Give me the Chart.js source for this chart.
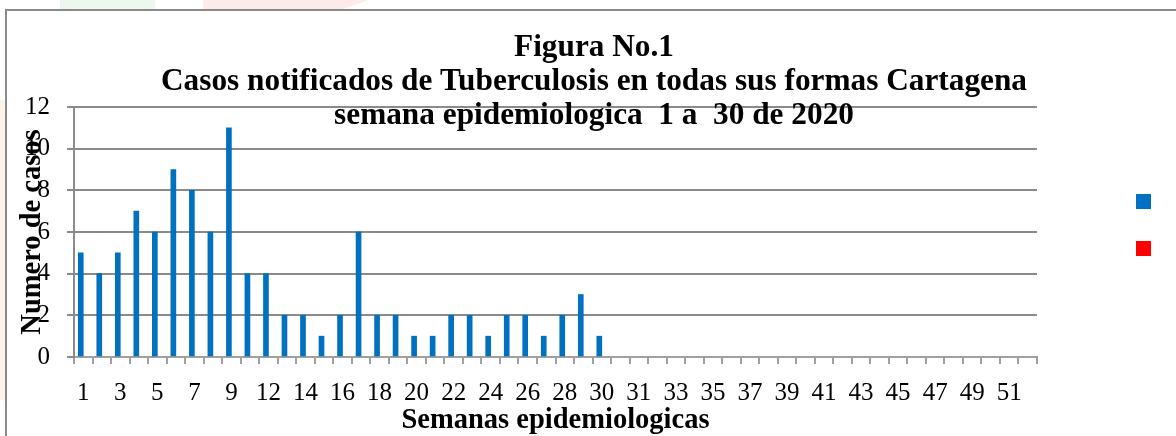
<!DOCTYPE html>
<html lang="es">
<head>
<meta charset="utf-8">
<title>Figura No.1</title>
<script src="https://cdn.jsdelivr.net/npm/chart.js@4.4.1/dist/chart.umd.min.js"></script>
<style>
    body { margin: 0; background: #ffffff; }
    #wrap { position: relative; width: 1176px; height: 436px; overflow: hidden; }
    .fondo { position: absolute; }
    #marco { left: 5px; top: 9px; width: 1300px; height: 600px; border-left: 2px solid #8a8a8a; border-top: 2px solid #8a8a8a; }
    #verde { left: 60px; top: 0; width: 95px; height: 9px; background: #eef7ee; }
    #rosa { left: 203px; top: 0; width: 165px; height: 9px; background: #fdeaea; clip-path: polygon(0 0, 100% 0, 85% 100%, 0 100%); }
    #durazno { left: 0; top: 100px; width: 5px; height: 300px; background: #fdf3e8; }
    #chart-casos { position: absolute; left: 0; top: 0; }
</style>
</head>
<body>
<div id="wrap">
    <div class="fondo" id="verde"></div>
    <div class="fondo" id="rosa"></div>
    <div class="fondo" id="durazno"></div>
    <div class="fondo" id="marco"></div>
    <canvas id="chart-casos" width="1176" height="436"></canvas>
</div>
<script>
// Semanas epidemiologicas (etiquetas del eje X, tal como salen en la figura)
const semanas = [
    '1', '2', '3', '4', '5', '6', '7', '8', '9', '10',
    '12', '13', '14', '15', '16', '17', '18', '19', '20', '21',
    '22', '23', '24', '25', '26', '27', '28', '29', '30', '',
    '31', '32', '33', '34', '35', '36', '37', '38', '39', '40',
    '41', '42', '43', '44', '45', '46', '47', '48', '49', '50',
    '51', '52'
];

// Casos notificados por semana (semanas 1 a 30)
const casos = [5, 4, 5, 7, 6, 9, 8, 6, 11, 4, 4, 2, 2, 1, 2, 6, 2, 2, 1, 1, 2, 2, 1, 2, 2, 1, 2, 3, 1];

// Segunda serie de la hoja (sin valores)
const casosSerie2 = [];

const tituloFigura = [
    'Figura No.1',
    'Casos notificados de Tuberculosis en todas sus formas Cartagena',
    'semana epidemiologica  1 a  30 de 2020'
];

const yMin = 0;
const yMax = 12;
const yPaso = 2;

const fuente = "'Liberation Serif', 'Times New Roman', serif";
const gris = '#8a8a8a';

function renderCasosChart() {
    const ctx = document.getElementById('chart-casos')?.getContext('2d');
    if (!ctx) return;

    new Chart(ctx, {
        type: 'bar',
        data: {
            labels: semanas,
            datasets: [{
                label: '',
                data: casos,
                backgroundColor: '#0070C0',
                barThickness: 5,
                yAxisID: 'y',
            }, {
                label: '',
                data: casosSerie2,
                backgroundColor: '#FF0000',
                barThickness: 5,
                yAxisID: 'y',
            }]
        },
        options: {
            responsive: false,
            animation: false,
            layout: {
                padding: { left: 21, right: 9, top: 0, bottom: 0 }
            },
            plugins: {
                title: {
                    display: true,
                    text: tituloFigura,
                    color: '#000000',
                    font: { family: fuente, size: 31.3, weight: 'bold', lineHeight: 34 / 31.3 },
                    padding: { top: 31, bottom: -26 }, // el titulo se monta sobre el area del grafico
                },
                legend: {
                    position: 'right',
                    labels: {
                        boxWidth: 15,
                        boxHeight: 15,
                        padding: 32,
                        font: { size: 12 },
                    },
                    title: {
                        display: true,
                        text: '',
                        padding: 0,
                        font: { size: 10, lineHeight: 1.4 },
                    }
                },
                tooltip: { enabled: false }
            },
            scales: {
                x: {
                    grid: {
                        display: true,
                        drawOnChartArea: false,
                        drawTicks: true,
                        tickLength: 7,
                        color: '#a0a0a0',
                        lineWidth: 2,
                        offset: true,
                    },
                    border: { display: true, color: '#a0a0a0', width: 2 },
                    ticks: {
                        autoSkip: false,
                        maxRotation: 0,
                        color: '#000000',
                        padding: 14,
                        font: { family: fuente, size: 25 },
                        callback: function(value, index) {
                            return index % 2 === 0 ? this.getLabelForValue(value) : '';
                        }
                    },
                    title: {
                        display: true,
                        text: 'Semanas epidemiologicas',
                        color: '#000000',
                        font: { family: fuente, size: 28.5, weight: 'bold', lineHeight: 1.2 },
                        padding: { top: 0, bottom: -2 },
                    },
                    afterFit: function(scale) {
                        scale.height = 79;
                    }
                },
                y: {
                    min: yMin,
                    max: yMax,
                    ticks: {
                        stepSize: yPaso,
                        color: '#000000',
                        padding: 17,
                        font: { family: fuente, size: 25 },
                    },
                    grid: {
                        color: gris,
                        lineWidth: 2,
                        tickLength: 7,
                    },
                    border: { display: true, color: gris, width: 2 },
                    title: {
                        display: true,
                        text: 'Numero de casos',
                        color: '#000000',
                        font: { family: fuente, size: 28.5, weight: 'bold', lineHeight: 1.2 },
                        padding: { top: -5.8, bottom: 0 }, // se superpone a las etiquetas como en Excel
                    },
                    afterFit: function(scale) {
                        scale.width = 53;
                    }
                },
                // espacio vacio entre el area del grafico y la leyenda
                margen: {
                    type: 'linear',
                    position: 'right',
                    display: true,
                    grid: { display: false },
                    ticks: { display: false },
                    border: { display: false },
                    afterFit: function(scale) {
                        scale.width = 67;
                    }
                }
            }
        }
    });
}

renderCasosChart();
</script>
</body>
</html>
